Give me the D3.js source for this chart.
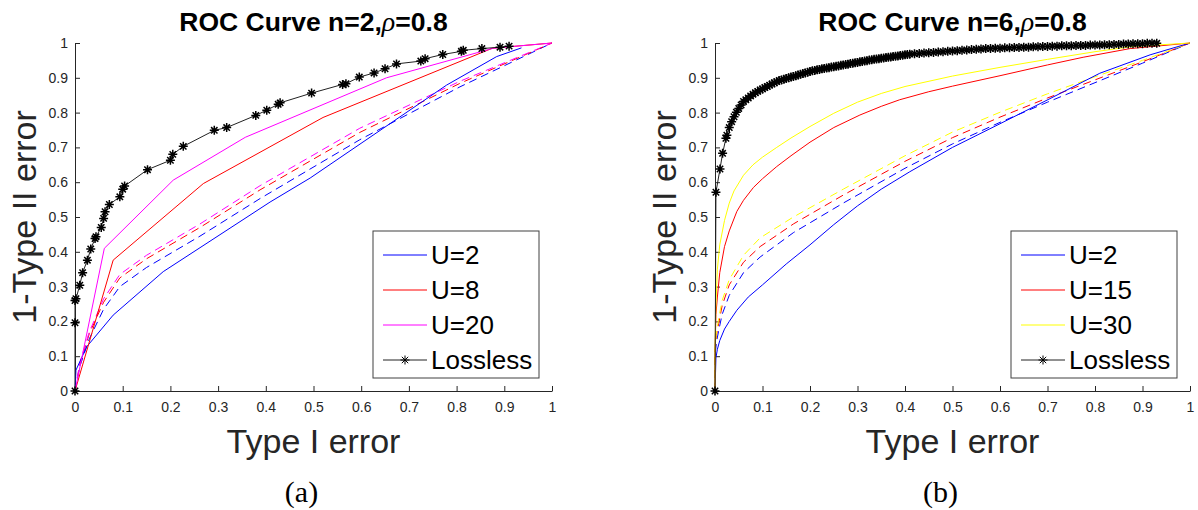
<!DOCTYPE html>
<html>
<head>
<meta charset="utf-8">
<script src="https://cdn.jsdelivr.net/npm/d3@7"></script>
<style>
  body { margin: 0; background: #fff; }
  svg { display: block; }
  text { font-family: "Liberation Sans", Arial, Helvetica, sans-serif; }
</style>
</head>
<body>
<svg id="chart" width="1198" height="510"></svg>
<script>
// shared ticks
const tickValues = [0, 0.1, 0.2, 0.3, 0.4, 0.5, 0.6, 0.7, 0.8, 0.9, 1];
const tickLabels = ["0", "0.1", "0.2", "0.3", "0.4", "0.5", "0.6", "0.7", "0.8", "0.9", "1"];

// ---- panel (a): n=2 ----
const aNames = ["U=2", "U=8", "U=20", "Lossless"];
const aColors = ["#0000ff", "#ff0000", "#ff00ff"];
const aSolidU2 = [[0, 0], [0.002, 0.06], [0.0245, 0.127], [0.08, 0.218], [0.185, 0.343], [0.409, 0.543],
  [0.493, 0.612], [0.779, 0.879], [0.884, 0.961], [0.936, 0.986]];
const aSolidU8 = [[0, 0], [0.08, 0.376], [0.269, 0.596], [0.52, 0.786], [0.875, 0.985], [1, 1]];
const aSolidU20 = [[0, 0], [0.0615, 0.41], [0.206, 0.606], [0.357, 0.729], [0.653, 0.9], [0.877, 0.985], [1, 1]];
const aDashU2 = [[0, 0], [0.01, 0.07], [0.03, 0.15], [0.06, 0.235], [0.094, 0.3], [0.15, 0.355], [0.262, 0.445],
  [0.388, 0.553], [0.597, 0.722], [0.807, 0.874], [1, 1]];
const aDashU8 = [[0, 0], [0.01, 0.075], [0.03, 0.165], [0.06, 0.255], [0.094, 0.325], [0.15, 0.38], [0.262, 0.47],
  [0.388, 0.578], [0.597, 0.743], [0.807, 0.884], [1, 1]];
const aDashU20 = [[0, 0], [0.01, 0.08], [0.03, 0.17], [0.06, 0.265], [0.094, 0.335], [0.15, 0.39], [0.262, 0.48],
  [0.388, 0.59], [0.597, 0.755], [0.807, 0.89], [1, 1]];
const aLossless = [[0, 0], [0, 0.196], [0, 0.26], [0.002, 0.265], [0.01, 0.304], [0.016, 0.34], [0.026, 0.376],
  [0.033, 0.408], [0.042, 0.438], [0.044, 0.443], [0.055, 0.47], [0.06, 0.496], [0.063, 0.515], [0.072, 0.536],
  [0.094, 0.558], [0.1, 0.58], [0.104, 0.589], [0.152, 0.636], [0.2, 0.663], [0.205, 0.68], [0.227, 0.703],
  [0.292, 0.749], [0.318, 0.757], [0.379, 0.792], [0.402, 0.807], [0.426, 0.824], [0.43, 0.828], [0.496, 0.856],
  [0.561, 0.881], [0.568, 0.883], [0.596, 0.902], [0.627, 0.914], [0.65, 0.926], [0.674, 0.94], [0.725, 0.948],
  [0.734, 0.955], [0.771, 0.967], [0.81, 0.976], [0.814, 0.979], [0.853, 0.984], [0.891, 0.988], [0.91, 0.991]];

// ---- panel (b): n=6 ----
const bNames = ["U=2", "U=15", "U=30", "Lossless"];
const bColors = ["#0000ff", "#ff0000", "#ffff00"];
const bSolidU2 = [[0, 0], [0.002, 0.095], [0.005, 0.12], [0.01, 0.145], [0.02, 0.178], [0.03, 0.2], [0.046, 0.232],
  [0.07, 0.27], [0.1, 0.305], [0.15, 0.365], [0.2, 0.42], [0.25, 0.478], [0.3, 0.532], [0.35, 0.58], [0.41, 0.63],
  [0.5, 0.7], [0.6, 0.768], [0.705, 0.84], [0.81, 0.913], [0.916, 0.966], [1, 1]];
const bSolidU15 = [[0, 0], [0, 0.11], [0.002, 0.22], [0.005, 0.27], [0.01, 0.34], [0.02, 0.415], [0.03, 0.46],
  [0.046, 0.516], [0.06, 0.548], [0.081, 0.585], [0.1, 0.61], [0.13, 0.645], [0.16, 0.676], [0.2, 0.715],
  [0.25, 0.757], [0.305, 0.793], [0.35, 0.818], [0.389, 0.837], [0.45, 0.86], [0.5, 0.876], [0.6, 0.906],
  [0.7, 0.937], [0.775, 0.959], [0.874, 0.984], [1, 1]];
const bSolidU30 = [[0, 0], [0, 0.12], [0.002, 0.25], [0.005, 0.35], [0.01, 0.42], [0.02, 0.49], [0.03, 0.54],
  [0.04, 0.575], [0.06, 0.62], [0.08, 0.65], [0.1, 0.672], [0.13, 0.7], [0.16, 0.727], [0.2, 0.76], [0.25, 0.798],
  [0.3, 0.83], [0.35, 0.855], [0.4, 0.875], [0.5, 0.905], [0.6, 0.93], [0.7, 0.953], [0.8, 0.975], [0.88, 0.99], [1, 1]];
const bDashU2 = [[0, 0], [0, 0.1], [0.003, 0.14], [0.008, 0.175], [0.015, 0.22], [0.03, 0.275], [0.06, 0.34],
  [0.095, 0.385], [0.165, 0.455], [0.27, 0.54], [0.4, 0.64], [0.5, 0.71], [0.6, 0.772], [0.7, 0.83],
  [0.8, 0.886], [0.9, 0.942], [1, 1]];
const bDashU15 = [[0, 0], [0, 0.11], [0.003, 0.16], [0.008, 0.195], [0.015, 0.245], [0.03, 0.305], [0.06, 0.37],
  [0.095, 0.415], [0.165, 0.48], [0.27, 0.563], [0.4, 0.66], [0.5, 0.728], [0.6, 0.787], [0.7, 0.842],
  [0.8, 0.894], [0.9, 0.946], [1, 1]];
const bDashU30 = [[0, 0], [0, 0.12], [0.003, 0.17], [0.008, 0.21], [0.015, 0.26], [0.03, 0.32], [0.06, 0.39],
  [0.095, 0.44], [0.165, 0.5], [0.27, 0.58], [0.4, 0.676], [0.5, 0.744], [0.6, 0.801], [0.7, 0.854],
  [0.8, 0.903], [0.9, 0.95], [1, 1]];
// lossless n=6: dense thresholds
const bLosslessX = [0, 0.002, 0.0105, 0.016, 0.023, 0.025, 0.03, 0.035, 0.04, 0.045, 0.05, 0.055, 0.06, 0.065,
  0.07, 0.075, 0.08, 0.085, 0.09, 0.095, 0.1, 0.105, 0.11, 0.115, 0.12, 0.125, 0.13, 0.135, 0.14, 0.145, 0.15,
  0.155, 0.16, 0.165, 0.17, 0.175, 0.18, 0.185, 0.19, 0.195, 0.2, 0.205, 0.21, 0.215, 0.22, 0.225, 0.23, 0.235,
  0.24, 0.245, 0.25, 0.255, 0.26, 0.265, 0.27, 0.275, 0.28, 0.285, 0.29, 0.295, 0.3, 0.305, 0.31, 0.315, 0.32,
  0.325, 0.33, 0.335, 0.34, 0.345, 0.35, 0.355, 0.36, 0.365, 0.37, 0.375, 0.38, 0.385, 0.39, 0.395, 0.4, 0.405,
  0.41, 0.42, 0.43, 0.44, 0.45, 0.46, 0.47, 0.48, 0.49, 0.5, 0.51, 0.52, 0.53, 0.54, 0.55, 0.56,
  0.57, 0.58, 0.59, 0.6, 0.61, 0.62, 0.63, 0.64, 0.65, 0.66, 0.67, 0.68, 0.69, 0.7, 0.71, 0.72, 0.73, 0.74,
  0.75, 0.76, 0.77, 0.78, 0.79, 0.8, 0.81, 0.82, 0.83, 0.84, 0.85, 0.86, 0.87, 0.88, 0.89, 0.9, 0.91, 0.92, 0.93];
const bLosslessY = [0, 0.571, 0.638, 0.683, 0.726, 0.735, 0.757, 0.774, 0.788, 0.801, 0.812, 0.822, 0.832, 0.837,
  0.842, 0.848, 0.853, 0.857, 0.861, 0.865, 0.868, 0.872, 0.875, 0.879, 0.882, 0.886, 0.889, 0.892, 0.894, 0.896, 0.898,
  0.9, 0.902, 0.904, 0.906, 0.908, 0.91, 0.912, 0.914, 0.916, 0.918, 0.92, 0.921, 0.923, 0.924, 0.926, 0.927, 0.928,
  0.929, 0.931, 0.932, 0.933, 0.934, 0.936, 0.937, 0.938, 0.939, 0.941, 0.942, 0.943, 0.944, 0.946, 0.947, 0.948, 0.949,
  0.951, 0.952, 0.953, 0.954, 0.955, 0.956, 0.957, 0.958, 0.959, 0.96, 0.961, 0.962, 0.963, 0.964, 0.965, 0.966, 0.967,
  0.968, 0.969, 0.97, 0.971, 0.972, 0.973, 0.974, 0.975, 0.976, 0.977, 0.978, 0.979, 0.98, 0.981, 0.982, 0.983,
  0.984, 0.984, 0.985, 0.985, 0.986, 0.986, 0.987, 0.987, 0.988, 0.988, 0.989, 0.989, 0.99, 0.99, 0.991, 0.991, 0.992, 0.992,
  0.992, 0.993, 0.993, 0.993, 0.994, 0.994, 0.994, 0.995, 0.995, 0.996, 0.996, 0.997, 0.997, 0.998, 0.998, 0.998, 0.999, 0.999, 0.999];
const bLossless = bLosslessX.map((v, i) => [v, bLosslessY[i]]);

const panels = [
  {title: ["ROC Curve n=2,", "=0.8"], caption: "(a)", left: 75, right: 552,
    names: aNames, colors: aColors, solid: [aSolidU2, aSolidU8, aSolidU20],
    dashed: [aDashU2, aDashU8, aDashU20], lossless: aLossless},
  {title: ["ROC Curve n=6,", "=0.8"], caption: "(b)", left: 715, right: 1190,
    names: bNames, colors: bColors, solid: [bSolidU2, bSolidU15, bSolidU30],
    dashed: [bDashU2, bDashU15, bDashU30], lossless: bLossless}
];

const svg = d3.select("#chart");
const axisColor = "#262626";
const starPath = "M-4.5,0H4.5M0,-4.5V4.5M-3.2,-3.2L3.2,3.2M-3.2,3.2L3.2,-3.2";

function drawPanel(p) {
  const x = d3.scaleLinear().domain([0, 1]).range([p.left, p.right]);
  const y = d3.scaleLinear().domain([0, 1]).range([391, 43]);
  const g = svg.append("g");
  const line = d3.line().x(d => x(d[0])).y(d => y(d[1]));

  // axes, ticks pointing inward like matlab
  const xAxis = g.append("g")
    .attr("transform", "translate(0,391)")
    .call(d3.axisBottom(x).tickValues(tickValues)
      .tickFormat((d, i) => tickLabels[i])
      .tickSizeInner(-5).tickSizeOuter(0).tickPadding(11));
  const yAxis = g.append("g")
    .attr("transform", `translate(${p.left},0)`)
    .call(d3.axisLeft(y).tickValues(tickValues)
      .tickFormat((d, i) => tickLabels[i])
      .tickSizeInner(-5).tickSizeOuter(0).tickPadding(7));
  [xAxis, yAxis].forEach(a => {
    a.select(".domain").attr("stroke", axisColor);
    a.selectAll(".tick line").attr("stroke", axisColor);
    a.selectAll(".tick text").attr("fill", axisColor)
      .style("font-size", "14px").style("font-family", "'Liberation Sans', Arial, sans-serif");
  });

  // dashed curves
  g.selectAll(".dash").data(p.dashed).enter().append("path")
    .attr("d", line)
    .attr("fill", "none")
    .attr("stroke", (d, i) => p.colors[i])
    .attr("stroke-width", 1)
    .attr("stroke-dasharray", "8,5");

  // solid curves
  g.selectAll(".solid").data(p.solid).enter().append("path")
    .attr("d", line)
    .attr("fill", "none")
    .attr("stroke", (d, i) => p.colors[i])
    .attr("stroke-width", 1);

  // lossless with asterisks
  g.append("path")
    .attr("d", line(p.lossless))
    .attr("fill", "none")
    .attr("stroke", "#222")
    .attr("stroke-width", 1);
  g.selectAll(".star").data(p.lossless).enter().append("path")
    .attr("d", starPath)
    .attr("transform", d => `translate(${x(d[0])},${y(d[1])})`)
    .attr("fill", "none")
    .attr("stroke", "#000")
    .attr("stroke-width", 1.5);

  // title
  const mid = (p.left + p.right) / 2;
  const t = g.append("text")
    .attr("x", mid).attr("y", 31)
    .attr("text-anchor", "middle")
    .style("font-size", "26.5px").style("font-weight", "bold")
    .attr("fill", "#000");
  t.append("tspan").text(p.title[0]);
  t.append("tspan").text("ρ")
    .style("font-family", "'Liberation Serif', 'DejaVu Serif', serif")
    .style("font-style", "italic").style("font-weight", "normal")
    .style("font-size", "28px");
  t.append("tspan").text(p.title[1]);

  // axis labels
  g.append("text")
    .attr("x", mid).attr("y", 453)
    .attr("text-anchor", "middle")
    .attr("fill", axisColor)
    .style("font-size", "34px")
    .text("Type I error");
  g.append("text")
    .attr("transform", `translate(${p.left - 39},217) rotate(-90)`)
    .attr("text-anchor", "middle")
    .attr("fill", axisColor)
    .style("font-size", "34px")
    .text("1-Type II error");

  // caption
  g.append("text")
    .attr("x", mid - 12).attr("y", 502)
    .attr("text-anchor", "middle")
    .style("font-family", "'Liberation Serif', 'DejaVu Serif', serif")
    .style("font-size", "30px")
    .attr("fill", "#000")
    .text(p.caption);

  // legend
  const lx = p.right - 179, ly = 231;
  const lg = g.append("g").attr("transform", `translate(${lx},${ly})`);
  lg.append("rect")
    .attr("width", 166).attr("height", 147)
    .attr("fill", "#fff").attr("stroke", "#404040").attr("stroke-width", 1);
  const items = lg.selectAll(".item").data(p.names).enter().append("g")
    .attr("transform", (d, i) => `translate(0,${24 + i * 35})`);
  items.append("line")
    .attr("x1", 10).attr("x2", 54)
    .attr("stroke", (d, i) => i < 3 ? p.colors[i] : "#222")
    .attr("stroke-width", 1);
  items.filter((d, i) => i === 3).append("path")
    .attr("d", starPath)
    .attr("transform", "translate(32,0)")
    .attr("fill", "none").attr("stroke", "#000");
  items.append("text")
    .attr("x", 58).attr("y", 9)
    .style("font-size", "26px")
    .attr("fill", "#000")
    .text(d => d);
}

panels.forEach(drawPanel);
</script>
</body>
</html>
